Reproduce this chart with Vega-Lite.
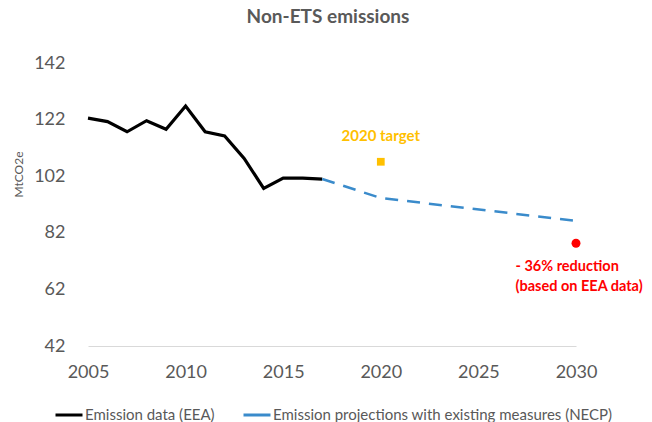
{
  "$schema": "https://vega.github.io/schema/vega-lite/v6.json",
  "autosize": {"type": "none"},
  "width": 488,
  "height": 283,
  "padding": {"left": 88, "top": 63, "right": 76, "bottom": 76},
  "background": "white",
  "config": {
    "view": {"stroke": null},
    "font": "Lato",
    "axis": {"labelFont": "Lato", "titleFont": "Lato", "labelColor": "#595959", "titleColor": "#595959", "grid": false, "ticks": false},
    "legend": {"labelFont": "Lato"}
  },
  "title": {"text": "Non-ETS emissions", "font": "Lato", "fontSize": 19, "fontWeight": "bold", "color": "#595959", "offset": 27, "anchor": "middle", "dx": -4},
  "datasets": {
    "hist": [
      {"year": 2005, "value": 122.5, "series": "Emission data (EEA)"},
      {"year": 2006, "value": 121.3, "series": "Emission data (EEA)"},
      {"year": 2007, "value": 117.7, "series": "Emission data (EEA)"},
      {"year": 2008, "value": 121.6, "series": "Emission data (EEA)"},
      {"year": 2009, "value": 118.6, "series": "Emission data (EEA)"},
      {"year": 2010, "value": 126.8, "series": "Emission data (EEA)"},
      {"year": 2011, "value": 117.7, "series": "Emission data (EEA)"},
      {"year": 2012, "value": 116.2, "series": "Emission data (EEA)"},
      {"year": 2013, "value": 108.3, "series": "Emission data (EEA)"},
      {"year": 2014, "value": 97.7, "series": "Emission data (EEA)"},
      {"year": 2015, "value": 101.3, "series": "Emission data (EEA)"},
      {"year": 2016, "value": 101.3, "series": "Emission data (EEA)"},
      {"year": 2017, "value": 101.0, "series": "Emission data (EEA)"}
    ],
    "proj": [
      {"year": 2017, "value": 101.0, "series": "Emission projections with existing measures (NECP)"},
      {"year": 2020, "value": 94.3, "series": "Emission projections with existing measures (NECP)"},
      {"year": 2030, "value": 86.2, "series": "Emission projections with existing measures (NECP)"}
    ],
    "target": [{"year": 2020, "value": 107.1}],
    "reduction": [{"year": 2030, "value": 78.3}],
    "targetLabel": [{"year": 2020, "value": 116.2, "text": "2020 target"}],
    "redLabels": [
      {"year": 2026.9, "value": 69.9, "text": "- 36% reduction"},
      {"year": 2026.9, "value": 62.8, "text": "(based on EEA data)"}
    ]
  },
  "encoding": {
    "x": {"field": "year", "type": "quantitative", "scale": {"domain": [2005, 2030], "nice": false, "zero": false},
      "axis": {"title": null, "values": [2005, 2010, 2015, 2020, 2025, 2030], "format": "d", "labelFontSize": 18, "labelPadding": 17, "domainColor": "#d9d9d9", "domainWidth": 1, "labelFlush": false}},
    "y": {"field": "value", "type": "quantitative", "scale": {"domain": [42, 142], "nice": false, "zero": false},
      "axis": {"title": "MtCO2e", "values": [42, 62, 82, 102, 122, 142], "labelFontSize": 18, "labelPadding": 23, "domain": false, "titleFontSize": 12, "titleFontWeight": "normal", "titleX": -70, "titleY": 111, "titleAngle": -90, "titleAlign": "center", "titleBaseline": "middle"}}
  },
  "layer": [
    {
      "data": {"name": "hist"},
      "mark": {"type": "line", "strokeWidth": 3.2, "strokeJoin": "miter"},
      "encoding": {
        "color": {"field": "series", "type": "nominal",
          "scale": {"domain": ["Emission data (EEA)", "Emission projections with existing measures (NECP)"], "range": ["#000000", "#3A8BCB"]},
          "legend": {"title": null, "orient": "none", "legendX": -34, "legendY": 337, "direction": "horizontal", "symbolType": "stroke", "symbolStrokeWidth": 3, "symbolSize": 729, "labelFontSize": 15, "labelColor": "#595959", "labelLimit": 500, "labelOffset": 1, "columnPadding": 22, "symbolOffset": 0, "padding": 0}}
      }
    },
    {
      "data": {"name": "proj"},
      "mark": {"type": "line", "strokeWidth": 2.5, "strokeDash": [13, 9]},
      "encoding": {"color": {"field": "series", "type": "nominal"}}
    },
    {
      "data": {"name": "target"},
      "mark": {"type": "square", "color": "#FFC000", "filled": true, "size": 60, "opacity": 1}
    },
    {
      "data": {"name": "reduction"},
      "mark": {"type": "circle", "color": "#FF0000", "size": 80, "opacity": 1}
    },
    {
      "data": {"name": "targetLabel"},
      "mark": {"type": "text", "fontSize": 15, "fontWeight": "bold", "baseline": "middle", "align": "center", "color": "#FFC000"},
      "encoding": {"text": {"field": "text"}}
    },
    {
      "data": {"name": "redLabels"},
      "mark": {"type": "text", "fontSize": 14.5, "fontWeight": "bold", "baseline": "middle", "align": "left", "color": "#FF0000"},
      "encoding": {"text": {"field": "text"}}
    }
  ]
}
